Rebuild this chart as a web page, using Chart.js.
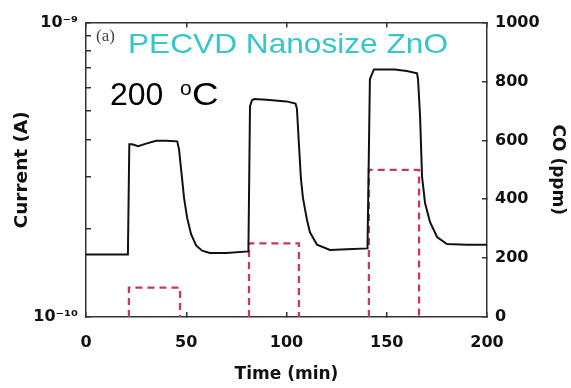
<!DOCTYPE html>
<html>
<head>
<meta charset="utf-8">
<script src="https://cdn.jsdelivr.net/npm/chart.js@4/dist/chart.umd.min.js"></script>
<style>
  html, body { margin: 0; padding: 0; background: #fff; }
  #wrap { width: 571px; height: 388px; position: relative; }
</style>
</head>
<body>
<div id="wrap"><canvas id="chart"></canvas></div>
<script>
// current trace (A) vs time (min)
const timeMin = [0, 20.9, 21.6, 23, 26, 30, 35, 40, 45.5, 46.4, 47.4, 48.9, 50.4, 52.4, 54.9, 57.9, 61.8, 70,
  81.0, 81.8, 82.8, 84, 90, 100, 104.5, 105.2, 106.2, 107.2, 108.2, 110.2, 111.7, 115.2, 121.7, 130,
  140.4, 141.6, 143.6, 154, 160, 165.1, 165.6, 166.6, 167.6, 169.1, 171.6, 175.1, 180, 190, 200];
const currentA = [1.63e-10, 1.63e-10, 3.86e-10, 3.86e-10, 3.80e-10, 3.88e-10, 3.97e-10, 3.97e-10, 3.95e-10,
  3.71e-10, 3.19e-10, 2.54e-10, 2.18e-10, 1.91e-10, 1.75e-10, 1.68e-10, 1.65e-10, 1.65e-10,
  1.67e-10, 5.20e-10, 5.45e-10, 5.50e-10, 5.47e-10, 5.40e-10, 5.31e-10, 5.10e-10, 3.86e-10, 2.95e-10,
  2.54e-10, 2.14e-10, 1.94e-10, 1.76e-10, 1.69e-10, 1.70e-10,
  1.71e-10, 6.43e-10, 6.93e-10, 6.93e-10, 6.85e-10, 6.73e-10, 6.43e-10, 4.85e-10, 3.00e-10, 2.44e-10,
  2.10e-10, 1.87e-10, 1.77e-10, 1.76e-10, 1.76e-10];

// CO pulses
const coOn = [21.4, 81.3, 141.1];
const coOff = [46.9, 106.2, 166.1];
const coPpm = [100, 250, 500];

const xTicks = [0, 50, 100, 150, 200];
const coTicks = [0, 200, 400, 600, 800, 1000];
const currentTicks = [1e-10, 2e-10, 3e-10, 4e-10, 5e-10, 6e-10, 7e-10, 8e-10, 9e-10, 1e-9];

const titleText = 'PECVD Nanosize ZnO';
const tempText = ['200', 'o', 'C'];
const panelText = '(a)';

const coPoints = [];
coOn.forEach((s, i) => {
  const e = coOff[i];
  coPoints.push({x: s, y: 0}, {x: s, y: coPpm[i]}, {x: e, y: coPpm[i]}, {x: e, y: 0}, {x: e + 0.5, y: null});
});

const axisColor = '#333';
const tickFont = {family: 'DejaVu Sans', size: 16, weight: 'bold'};
const titleFont = {family: 'DejaVu Sans', size: 17, weight: 'bold'};

const labels = {
  id: 'labels',
  afterDraw(chart) {
    const ctx = chart.ctx;
    ctx.save();
    ctx.textBaseline = 'alphabetic';
    ctx.textAlign = 'left';

    ctx.fillStyle = '#444';
    ctx.font = '17px "Liberation Serif"';
    ctx.fillText(panelText, 96, 41);

    ctx.fillStyle = '#36c5c8';
    ctx.font = '28px "Liberation Sans"';
    ctx.save();
    ctx.translate(128, 53);
    ctx.scale(1.13, 1);
    ctx.fillText(titleText, 0, 0);
    ctx.restore();

    ctx.fillStyle = '#000';
    ctx.font = '32px "Liberation Sans"';
    ctx.fillText(tempText[0], 110, 105);
    ctx.font = '21px "Liberation Sans"';
    ctx.fillText(tempText[1], 180, 95);
    ctx.font = '32px "Liberation Sans"';
    ctx.save();
    ctx.translate(192, 105);
    ctx.scale(1.15, 1);
    ctx.fillText(tempText[2], 0, 0);
    ctx.restore();
    ctx.restore();
  }
};

new Chart(document.getElementById('chart'), {
  type: 'line',
  data: {
    datasets: [{
      data: timeMin.map((t, i) => ({x: t, y: currentA[i]})),
      yAxisID: 'y',
      borderColor: '#111',
      borderWidth: 2,
      pointRadius: 0,
      tension: 0
    }, {
      data: coPoints,
      yAxisID: 'y2',
      borderColor: '#c43a5a',
      borderWidth: 2.3,
      borderDash: [7, 5],
      pointRadius: 0,
      spanGaps: false,
      tension: 0
    }]
  },
  options: {
    animation: false,
    responsive: true,
    maintainAspectRatio: false,
    layout: {padding: {top: 15, left: 0, right: 0, bottom: 0}},
    scales: {
      x: {
        type: 'linear',
        position: 'bottom',
        min: 0,
        max: 200,
        afterBuildTicks: (s) => { s.ticks = xTicks.map(v => ({value: v})); },
        afterFit: (s) => { s.height = 71; },
        ticks: {color: '#111', font: tickFont, padding: 21, maxRotation: 0, callback: (v) => String(v)},
        grid: {drawOnChartArea: false, tickLength: -5, color: axisColor, lineWidth: 1.5},
        border: {color: axisColor, width: 1.5},
        title: {display: true, text: 'Time (min)', color: '#111', font: titleFont, padding: {top: 0, bottom: 3}}
      },
      xTop: {
        type: 'linear',
        position: 'top',
        min: 0,
        max: 200,
        afterBuildTicks: (s) => { s.ticks = xTicks.map(v => ({value: v})); },
        afterFit: (s) => { s.height = 0; },
        ticks: {display: false},
        grid: {drawOnChartArea: false, tickLength: -5, color: axisColor, lineWidth: 1.5},
        border: {color: axisColor, width: 1.5}
      },
      y: {
        type: 'logarithmic',
        position: 'left',
        min: 1e-10,
        max: 1e-9,
        afterBuildTicks: (s) => { s.ticks = currentTicks.map(v => ({value: v})); },
        afterFit: (s) => { s.width = 86; },
        ticks: {
          autoSkip: false,
          color: '#111',
          font: tickFont,
          padding: 13,
          callback: (v) => {
            const e = Math.log10(v);
            if (Math.abs(e + 10) < 1e-6) return '10⁻¹⁰';
            if (Math.abs(e + 9) < 1e-6) return '10⁻⁹';
            return '';
          }
        },
        grid: {drawOnChartArea: false, tickLength: -5, color: axisColor, lineWidth: 1.5},
        border: {color: axisColor, width: 1.5},
        title: {display: true, text: 'Current (A)', color: '#111', font: {family: 'DejaVu Sans', size: 18.5, weight: 'bold'}, padding: {top: 11, bottom: 0}}
      },
      y2: {
        type: 'linear',
        position: 'right',
        min: 0,
        max: 1000,
        afterBuildTicks: (s) => { s.ticks = coTicks.map(v => ({value: v})); },
        afterFit: (s) => { s.width = 84; },
        ticks: {color: '#111', font: tickFont, padding: 13, callback: (v) => String(v)},
        grid: {drawOnChartArea: false, tickLength: -5, color: axisColor, lineWidth: 1.5},
        border: {color: axisColor, width: 1.5},
        title: {display: true, text: 'CO (ppm)', color: '#111', font: titleFont, padding: {top: 3, bottom: 0}}
      }
    },
    plugins: {
      legend: {display: false},
      tooltip: {enabled: false}
    }
  },
  plugins: [labels]
});
</script>
</body>
</html>
